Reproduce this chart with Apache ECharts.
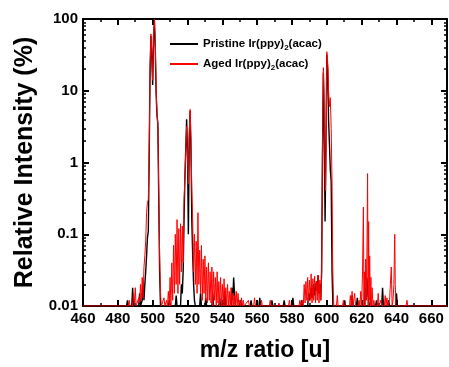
<!DOCTYPE html>
<html>
<head>
<meta charset="utf-8">
<script src="https://cdn.jsdelivr.net/npm/echarts@6/dist/echarts.min.js"></script>
<style>html,body{margin:0;padding:0;background:#fff}#c{width:449px;height:367px}</style>
</head>
<body>
<div id="c"></div>
<script>
// ---- data: [m/z, relative intensity %] ----
const pristine = [
  [460,0.01],[485,0.01],[485.5,0.012],[486,0.01],[488,0.01],[488.5,0.018],[489,0.01],[492,0.01],[492.5,0.015],[493,0.01],
  [494,0.012],[494.5,0.02],[495,0.012],[495.5,0.02],[496,0.03],[496.5,0.05],[497,0.09],[497.5,0.11],[498,1.2],[498.5,18],
  [499,58],[499.5,30],[500,12],[500.5,55],[501,95],[501.5,40],[502,9],[502.5,4.5],[503,3.5],[503.5,0.3],[504,0.03],[504.5,0.01],
  [509,0.01],[509.5,0.012],[510,0.01],[513,0.01],[513.5,0.014],[514,0.01],[516,0.01],[516.5,0.02],[517,0.015],[517.5,0.03],
  [518,0.15],[518.5,0.6],[519,1.5],[519.5,4],[520,1.5],[520.5,0.1],[521,2],[521.5,5.2],[522,1.5],[522.5,0.15],[523,0.05],
  [523.5,0.02],[524,0.012],[524.5,0.01],[527,0.01],[527.5,0.015],[528,0.01],[530,0.01],[530.5,0.013],[531,0.01],[534,0.01],
  [534.5,0.015],[535,0.01],[538,0.01],[538.5,0.013],[539,0.01],[541,0.01],[541.5,0.016],[542,0.01],[545,0.01],[545.5,0.018],
  [546,0.012],[546.5,0.025],[547,0.015],[547.5,0.01],[550,0.01],[550.5,0.012],[551,0.01],[556,0.01],[556.5,0.012],[557,0.01],
  [561,0.01],[561.5,0.013],[562,0.01],[568,0.01],[568.5,0.012],[569,0.01],[575,0.01],[575.5,0.012],[576,0.01],[580,0.01],
  [580.5,0.013],[581,0.01],[585,0.01],[585.5,0.012],[586,0.01],[589,0.01],[589.5,0.015],[590,0.012],[591,0.018],[591.5,0.013],
  [592.5,0.02],[593,0.014],[594,0.022],[594.5,0.016],[595,0.027],[595.5,0.015],[596,0.02],[596.5,0.012],[597,0.03],[597.5,1.2],
  [598,18],[598.5,3],[599,0.15],[599.5,2],[600,32],[600.5,20],[601,4],[601.5,1.8],[602,0.8],[602.5,0.55],[603,0.03],[603.5,0.01],
  [610,0.01],[610.3,0.012],[610.6,0.01],[614,0.01],[614.5,0.014],[615,0.01],[617,0.01],[617.5,0.013],[618,0.01],[621.5,0.01],
  [622,0.018],[622.5,0.012],[623,0.025],[623.5,0.015],[624,0.012],[624.5,0.01],[628,0.01],[628.5,0.012],[629,0.01],[631.5,0.01],
  [632,0.018],[632.5,0.01],[635,0.01],[635.5,0.012],[636,0.01],[639.5,0.01],[640,0.015],[640.5,0.01],[650,0.01],[669,0.01]
];
const aged = [
  [460,0.01],[486,0.01],[486.5,0.012],[487,0.01],[488.5,0.01],[489,0.015],[489.5,0.011],[490,0.018],[490.5,0.01],[491.5,0.01],
  [492,0.013],[492.5,0.011],[493,0.02],[493.5,0.012],[494,0.025],[494.5,0.013],[495,0.035],[495.5,0.05],[496,0.08],[496.5,0.2],
  [497,0.28],[497.5,0.3],[498,1.5],[498.5,20],[499,62],[499.5,35],[500,14],[500.5,60],[501,100],[501.5,45],[502,10],[502.5,5],
  [503,3],[503.5,0.4],[504,0.05],[504.5,0.015],[505,0.01],[506.5,0.013],[507,0.01],[508,0.012],[508.5,0.01],[509,0.016],
  [509.5,0.01],[510,0.025],[510.5,0.01],[511,0.04],[511.5,0.012],[512,0.07],[512.5,0.015],[513,0.1],[513.5,0.02],[514,0.16],
  [514.5,0.015],[515,0.12],[515.5,0.02],[516,0.14],[516.5,0.03],[517,0.13],[517.5,0.04],[518,0.3],
  [518.5,0.6],[519,1.5],[519.5,3.2],[520,1.2],[520.5,0.5],[521,2.5],[521.5,5.5],[522,2],[522.5,0.4],[523,0.15],[523.5,0.03],
  [524,0.1],[524.5,0.02],[525,0.08],[525.5,0.015],[526,0.2],[526.5,0.02],[527,0.06],[527.5,0.015],[528,0.07],[528.5,0.012],
  [529,0.045],[529.5,0.015],[530,0.05],[530.5,0.012],[531,0.035],[531.5,0.011],[532,0.04],[532.5,0.012],[533,0.03],[533.5,0.011],
  [534,0.035],[534.5,0.01],[535,0.03],[535.5,0.012],[536,0.025],[536.5,0.01],[537,0.03],[537.5,0.011],[538,0.022],[538.5,0.01],
  [539,0.025],[539.5,0.01],[540,0.02],[540.5,0.01],[541,0.024],[541.5,0.01],[542,0.018],[542.5,0.01],[543,0.02],[543.5,0.01],
  [544,0.016],[544.5,0.01],[545,0.018],[545.5,0.01],[546,0.015],[546.5,0.01],[547,0.014],[547.5,0.01],[548,0.016],[548.5,0.01],
  [549,0.015],[549.5,0.01],[550,0.012],[550.5,0.01],[551,0.013],[551.5,0.01],[552,0.012],[552.5,0.01],[555,0.012],[555.5,0.01],
  [558,0.01],[558.5,0.013],[559,0.01],[562,0.01],[562.5,0.012],[563,0.01],[567,0.01],[567.5,0.012],[568,0.01],[572,0.01],
  [572.5,0.011],[573,0.01],[578,0.01],[578.5,0.012],[579,0.01],[584,0.01],[584.5,0.012],[585,0.01],[586,0.012],[586.5,0.01],
  [587,0.02],[587.5,0.011],[588,0.022],[588.5,0.012],[589,0.025],[589.5,0.011],[590,0.023],[590.5,0.012],[591,0.028],[591.5,0.011],
  [592,0.024],[592.5,0.012],[593,0.026],[593.5,0.011],[594,0.022],[594.5,0.012],[595,0.027],[595.5,0.011],[596,0.023],[596.5,0.012],
  [597,0.025],[597.5,1.5],[598,21],[598.5,8],[599,0.8],[599.3,0.4],[599.7,3],[600,35],[600.5,25],[601,10],[601.5,6],[602,8],
  [602.5,3],[603,0.5],[603.3,0.05],[603.6,0.02],[604,0.01],[605.5,0.01],[606,0.014],[606.5,0.01],[609,0.01],[609.5,0.012],
  [610,0.01],[613,0.01],[613.5,0.014],[614,0.01],[614.5,0.016],[615,0.01],[616,0.015],[616.5,0.01],[618,0.01],[618.5,0.012],
  [619,0.01],[619.5,0.016],[620,0.01],[620.5,0.03],[621,0.24],[621.3,0.01],[621.6,0.03],[622,0.01],[622.3,0.045],[622.6,0.012],
  [623,0.05],[623.4,0.7],[623.7,0.01],[624,0.15],[624.3,0.012],[624.6,0.05],[625,0.01],[625.3,0.025],[625.6,0.01],[626,0.018],
  [626.5,0.01],[627,0.012],[627.5,0.01],[629,0.01],[629.5,0.015],[630,0.01],[631,0.012],[631.5,0.01],[633,0.01],[633.5,0.014],
  [634,0.01],[634.5,0.013],[635,0.01],[636,0.012],[636.5,0.02],[637,0.035],[637.5,0.01],[638,0.012],[638.5,0.02],[639,0.1],
  [639.3,0.02],[639.6,0.01],[640,0.01],[645.5,0.01],[646,0.012],[646.5,0.01],[669,0.01]
];
const seriesNames = ['Pristine', 'Aged'];
const legendLabels = {
  Pristine: 'Pristine Ir(ppy){s|2}(acac)',
  Aged: 'Aged Ir(ppy){s|2}(acac)'
};
const xMin = 460, xMax = 669, xStep = 20;
const yMin = 0.01, yMax = 100;

const FONT = 'Liberation Sans, Arial, sans-serif';
const chart = echarts.init(document.getElementById('c'));

function axisLine() { return {show: true, lineStyle: {color: '#000', width: 2}}; }
function majorTick() { return {show: true, inside: true, length: 6, lineStyle: {color: '#000', width: 2}}; }
function minorTick(n) { return {show: true, splitNumber: n, length: 3, lineStyle: {color: '#000', width: 1.5}}; }

function xAx(pos, labels) {
  return {
    type: 'value', position: pos, min: xMin, max: xMax, interval: xStep,
    axisLine: axisLine(), axisTick: majorTick(), minorTick: minorTick(2), splitLine: {show: false},
    axisLabel: labels ? {show: true, color: '#000', fontFamily: FONT, fontWeight: 'bold', fontSize: 15, margin: 5} : {show: false},
    name: labels ? 'm/z ratio [u]' : '', nameLocation: 'middle', nameGap: 33,
    nameTextStyle: {color: '#000', fontFamily: FONT, fontWeight: 'bold', fontSize: 23}
  };
}
function yAx(pos, labels) {
  return {
    type: 'log', position: pos, min: yMin, max: yMax,
    axisLine: axisLine(), axisTick: majorTick(), minorTick: minorTick(9), splitLine: {show: false},
    axisLabel: labels ? {show: true, color: '#000', fontFamily: FONT, fontWeight: 'bold', fontSize: 15, margin: 5,
      formatter: v => String(v)} : {show: false},
    name: labels ? 'Relative Intensity (%)' : '', nameLocation: 'middle', nameGap: 43,
    nameTextStyle: {color: '#000', fontFamily: FONT, fontWeight: 'bold', fontSize: 25}
  };
}

chart.setOption({
  animation: false,
  grid: {left: 83, right: 2, top: 19, bottom: 60},
  xAxis: [xAx('bottom', true), xAx('top', false)],
  yAxis: [yAx('left', true), yAx('right', false)],
  legend: {
    data: seriesNames.map(n => ({name: n, icon: 'rect'})), orient: 'vertical', left: 165, top: 31,
    itemWidth: 28, itemHeight: 2, itemGap: 4,
    formatter: n => legendLabels[n],
    textStyle: {color: '#000', fontFamily: FONT, fontWeight: 'bold', fontSize: 11.5, lineHeight: 16,
      rich: {s: {fontFamily: FONT, fontWeight: 'bold', fontSize: 8, lineHeight: 8, verticalAlign: 'bottom', color: '#000'}}}
  },
  series: [
    {name: seriesNames[0], type: 'line', data: pristine, symbol: 'none', color: '#000',
     lineStyle: {color: '#000', width: 1.4}},
    {name: seriesNames[1], type: 'line', data: aged, symbol: 'none', color: '#ff0000',
     lineStyle: {color: '#ff0000', width: 1}}
  ]
});
</script>
</body>
</html>
